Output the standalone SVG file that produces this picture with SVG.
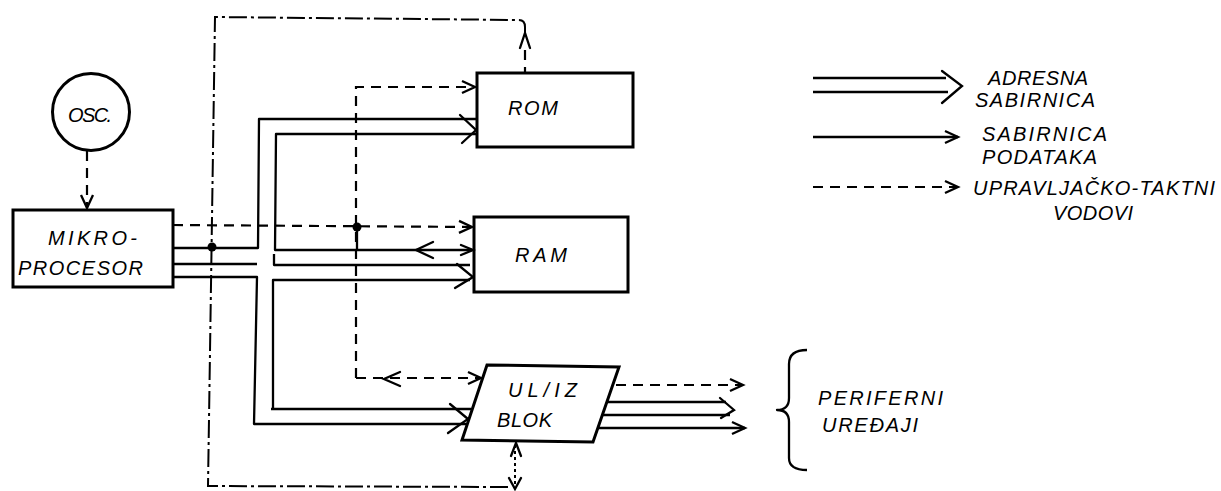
<svg xmlns="http://www.w3.org/2000/svg" width="1221" height="491" viewBox="0 0 1221 491">
<style>
  .bg{fill:#fff}
  .box{fill:none;stroke:#000;stroke-width:3;stroke-linejoin:miter}
  .ln{fill:none;stroke:#000;stroke-width:2.3;stroke-linejoin:round}
  .dash{fill:none;stroke:#000;stroke-width:2.2;stroke-dasharray:10 7}
  .dd{fill:none;stroke:#000;stroke-width:2;stroke-dasharray:18 4 3 4}
  .dot{fill:none;stroke:#000;stroke-width:2;stroke-dasharray:3 3}
  .hd{fill:none;stroke:#000;stroke-width:2.3;stroke-linejoin:miter;stroke-linecap:round}
  .t{font-family:"Liberation Sans",Arial,sans-serif;font-style:italic;font-size:20px;fill:#000}
</style>
<defs>
  <marker id="ah" markerUnits="userSpaceOnUse" markerWidth="16" markerHeight="14" refX="14" refY="7" orient="auto" overflow="visible">
    <path d="M1,1 L14,7 L1,13" fill="none" stroke="#000" stroke-width="2.3"/>
  </marker>
</defs>
<rect class="bg" width="1221" height="491"/>

<g id="osc">
  <circle cx="91" cy="112" r="38.5" class="box"/>
  <text class="t" x="68" y="122" font-size="19" textLength="44" lengthAdjust="spacing">OSC.</text>
</g>
<g id="mikroprocesor">
  <rect x="13" y="210" width="160" height="77" class="box"/>
  <text class="t" x="48" y="245" textLength="89" lengthAdjust="spacing">MIKRO-</text>
  <text class="t" x="18" y="275" textLength="125" lengthAdjust="spacing">PROCESOR</text>
</g>
<g id="rom">
  <rect x="477" y="73" width="156" height="74" class="box"/>
  <text class="t" x="508" y="115" textLength="50" lengthAdjust="spacing">ROM</text>
</g>
<g id="ram">
  <rect x="474" y="217" width="154" height="75" class="box"/>
  <text class="t" x="515" y="262" textLength="52" lengthAdjust="spacing">RAM</text>
</g>
<g id="ul-iz-blok">
  <polygon points="487,365 619,367 593,442 462,440" class="box"/>
  <text class="t" x="508" y="397" textLength="69" lengthAdjust="spacing">UL/IZ</text>
  <text class="t" x="497" y="427" textLength="55" lengthAdjust="spacing">BLOK</text>
</g>
<g id="periferni">
  <path d="M807,350 Q789,350 789,364 V398 Q789,410 777,410 Q789,410 789,422 V458 Q789,470 807,470" class="ln" stroke-width="2"/>
  <text class="t" x="818" y="405" textLength="125" lengthAdjust="spacing">PERIFERNI</text>
  <text class="t" x="822" y="432" textLength="96" lengthAdjust="spacing">URE&#272;AJI</text>
</g>

<g id="legend">
  <g id="legend-adresna">
    <line x1="813" y1="78" x2="946" y2="78" class="ln"/>
    <line x1="813" y1="92" x2="948" y2="92" class="ln"/>
    <path d="M942,71 L962,86 L942,103" class="hd"/>
    <text class="t" x="988" y="85" textLength="100" lengthAdjust="spacing">ADRESNA</text>
    <text class="t" x="975" y="107" textLength="120" lengthAdjust="spacing">SABIRNICA</text>
  </g>
  <g id="legend-podataka">
    <line x1="813" y1="137" x2="958" y2="137" class="ln" marker-end="url(#ah)"/>
    <text class="t" x="982" y="141" textLength="125" lengthAdjust="spacing">SABIRNICA</text>
    <text class="t" x="982" y="164" textLength="115" lengthAdjust="spacing">PODATAKA</text>
  </g>
  <g id="legend-upravljacko">
    <line x1="813" y1="187" x2="958" y2="187" class="dash" marker-end="url(#ah)"/>
    <text class="t" x="973" y="195" textLength="242" lengthAdjust="spacing">UPRAVLJA&#268;KO-TAKTNI</text>
    <text class="t" x="1053" y="220" textLength="80" lengthAdjust="spacing">VODOVI</text>
  </g>
</g>

<g id="connectors">
  <!-- OSC to MIKROPROCESOR -->
  <line x1="87" y1="151" x2="87" y2="208" class="dash" stroke-dasharray="8 5" marker-end="url(#ah)"/>

  <!-- clock dash-dot loop -->
  <path d="M508,487 L208,486 L215,17 L519,20 Q525,20 525,27 L525,34" class="dd"/>
  <path d="M520,48 L525,33 L530,48" class="hd"/>
  <line x1="525" y1="50" x2="525" y2="72" class="dash" stroke-dasharray="6 4"/>
  <circle cx="212" cy="247" r="4.5" fill="#000"/>

  <!-- bus to ROM (outer / inner) -->
  <path d="M173,248 H258 L259,119 H476" class="ln" stroke-width="3"/>
  <path d="M476,134 H276 L275,250 H472" class="ln"/>
  <path d="M460,115 L476,130 L462,143" class="hd"/>

  <!-- bus to RAM -->
  <line x1="173" y1="264" x2="257" y2="264" class="ln"/>
  <path d="M274,254 V265 H470" class="ln"/>
  <path d="M273,410 L273,280 H470" class="ln"/>
  <path d="M457,264 L473,277 L455,288" class="hd"/>
  <path d="M433,242 L416,250 L433,258" class="hd"/>
  <path d="M461,245 L473,250 L461,255" class="hd"/>

  <!-- bus to UL/IZ -->
  <path d="M173,277 H257 L254,424 H466" class="ln"/>
  <path d="M271,409 H471" class="ln"/>
  <path d="M450,404 L468,419 L448,433" class="hd"/>

  <!-- control lines -->
  <line x1="173" y1="225" x2="472" y2="227" class="dash" marker-end="url(#ah)"/>
  <path d="M356,378 V87 H475" class="dash" marker-end="url(#ah)"/>
  <path d="M356,378 H481" class="dash" marker-end="url(#ah)"/>
  <path d="M400,372 L384,379 L400,386" class="hd"/>
  <circle cx="357" cy="227" r="4.5" fill="#000"/>
  <line x1="357" y1="227" x2="357" y2="250" class="ln"/>

  <!-- UL/IZ bottom bidirectional -->
  <line x1="515" y1="445" x2="515" y2="487" class="dot"/>
  <path d="M511,456 L516,443 L521,456" class="hd"/>
  <path d="M509,478 L515,489 L521,478" class="hd"/>

  <!-- UL/IZ outputs to peripherals -->
  <line x1="616" y1="385" x2="743" y2="385" class="dash" marker-end="url(#ah)"/>
  <line x1="606" y1="402" x2="726" y2="402" class="ln"/>
  <line x1="602" y1="415" x2="730" y2="415" class="ln"/>
  <path d="M720,398 L734,410 L721,418" class="hd"/>
  <line x1="597" y1="428" x2="745" y2="428" class="ln" marker-end="url(#ah)"/>
</g>
</svg>
